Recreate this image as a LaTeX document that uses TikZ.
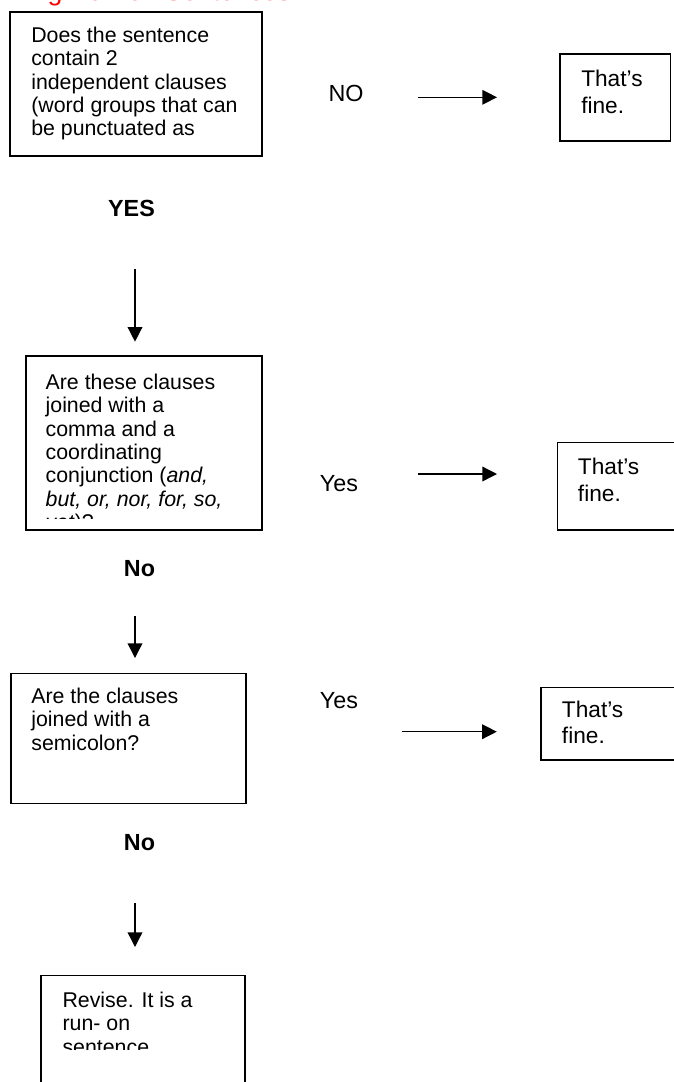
\documentclass[tikz,border=0pt]{standalone}
\usepackage{fontspec}
\setmainfont{Liberation Sans}
\usetikzlibrary{arrows.meta,fit}

\newcommand{\qfont}{\fontsize{16}{17.5}\selectfont}
\newcommand{\finefont}{\fontsize{17}{20}\selectfont}

\tikzset{
    box/.style={draw, line width=1.1pt, inner sep=0pt},
    qtext/.style={anchor=north west, inner sep=0pt, align=left,
        font=\qfont, execute at begin node={\qfont\strut}},
    finetext/.style={anchor=north west, inner sep=0pt, align=left,
        font=\finefont, execute at begin node={\finefont\strut}},
    answer/.style={anchor=base, inner sep=0pt, font=\fontsize{17.5}{21}\selectfont},
    boldanswer/.style={answer, font=\bfseries\fontsize{17.5}{21}\selectfont},
    arr/.style={-{Triangle[length=11pt,width=11pt]}, line width=1pt},
}

\begin{document}
\begin{tikzpicture}[x=0.75pt, y=-0.75pt]
    \useasboundingbox (0,0) rectangle (674,1082);
    \node[anchor=base west, inner sep=0pt, text=red, font=\fontsize{20}{24}\selectfont] (title) at (-9,0.5) {Fixing Run-on Sentences};

    \node[box, fit={(10,12) (262,156)}] (twoClauses) {};
    \node[qtext] (twoClausesText) at (31,26.7) {Does the sentence\\contain 2\\independent clauses\\(word groups that can\\be punctuated as};
    \node[answer] (noA) at (346,101.7) {NO};
    \node[box, fit={(560,54) (670.4,141)}] (fineA) {};
    \node[finetext] (fineAText) at (581,70.3) {That’s\\fine.};
    \coordinate (noATail) at (418,97.3);
    \coordinate (noATip) at (497,97.3);
    \draw[arr] (noATail) -- (noATip);

    \node[boldanswer] (yesA) at (131.5,216) {YES};
    \coordinate (yesATail) at (135,269);
    \coordinate (yesATip) at (135,341.7);
    \draw[arr] (yesATail) -- (yesATip);

    \node[box, fit={(26,356) (262,530)}] (commaQ) {};
    \begin{scope}
        \clip (26,356) rectangle (262,518);
        \node[qtext] (commaQText) at (45.4,373.7) {Are these clauses\\joined with a\\comma and a\\coordinating\\conjunction (\textit{and,}\\\textit{but, or, nor, for, so,}\\\textit{yet})?};
    \end{scope}
    \node[answer] (yesB) at (339,491.7) {Yes};
    \node[box, fit={(557.3,442.7) (680,530)}] (fineB) {};
    \node[finetext] (fineBText) at (577.7,457.8) {That’s\\fine.};
    \coordinate (yesBTail) at (418,474);
    \coordinate (yesBTip) at (497,474);
    \draw[arr] (yesBTail) -- (yesBTip);

    \node[boldanswer] (noB) at (139.5,576.7) {No};
    \coordinate (noBTail) at (135,616);
    \coordinate (noBTip) at (135,658);
    \draw[arr] (noBTail) -- (noBTip);

    \node[box, fit={(10.8,673.3) (246,803.3)}] (semiQ) {};
    \node[qtext] (semiQText) at (31.1,687.7) {Are the clauses\\joined with a\\semicolon?};
    \node[answer] (yesC) at (339,708.3) {Yes};
    \node[box, fit={(541,687.3) (680,760)}] (fineC) {};
    \node[finetext] (fineCText) at (561.7,700.3) {That’s\\fine.};
    \coordinate (yesCTail) at (401.7,731.7);
    \coordinate (yesCTip) at (496.8,731.7);
    \draw[arr] (yesCTail) -- (yesCTip);

    \node[boldanswer] (noC) at (139.5,850) {No};
    \coordinate (noCTail) at (135,903);
    \coordinate (noCTip) at (135,947);
    \draw[arr] (noCTail) -- (noCTip);

    \node[box, fit={(41,975.7) (245,1090)}] (revise) {};
    \begin{scope}
        \clip (41,975.7) rectangle (245,1049.5);
        \node[qtext] (reviseText) at (62.3,991.7) {Revise. It is a\\run- on\\sentence};
    \end{scope}
\end{tikzpicture}
\end{document}
